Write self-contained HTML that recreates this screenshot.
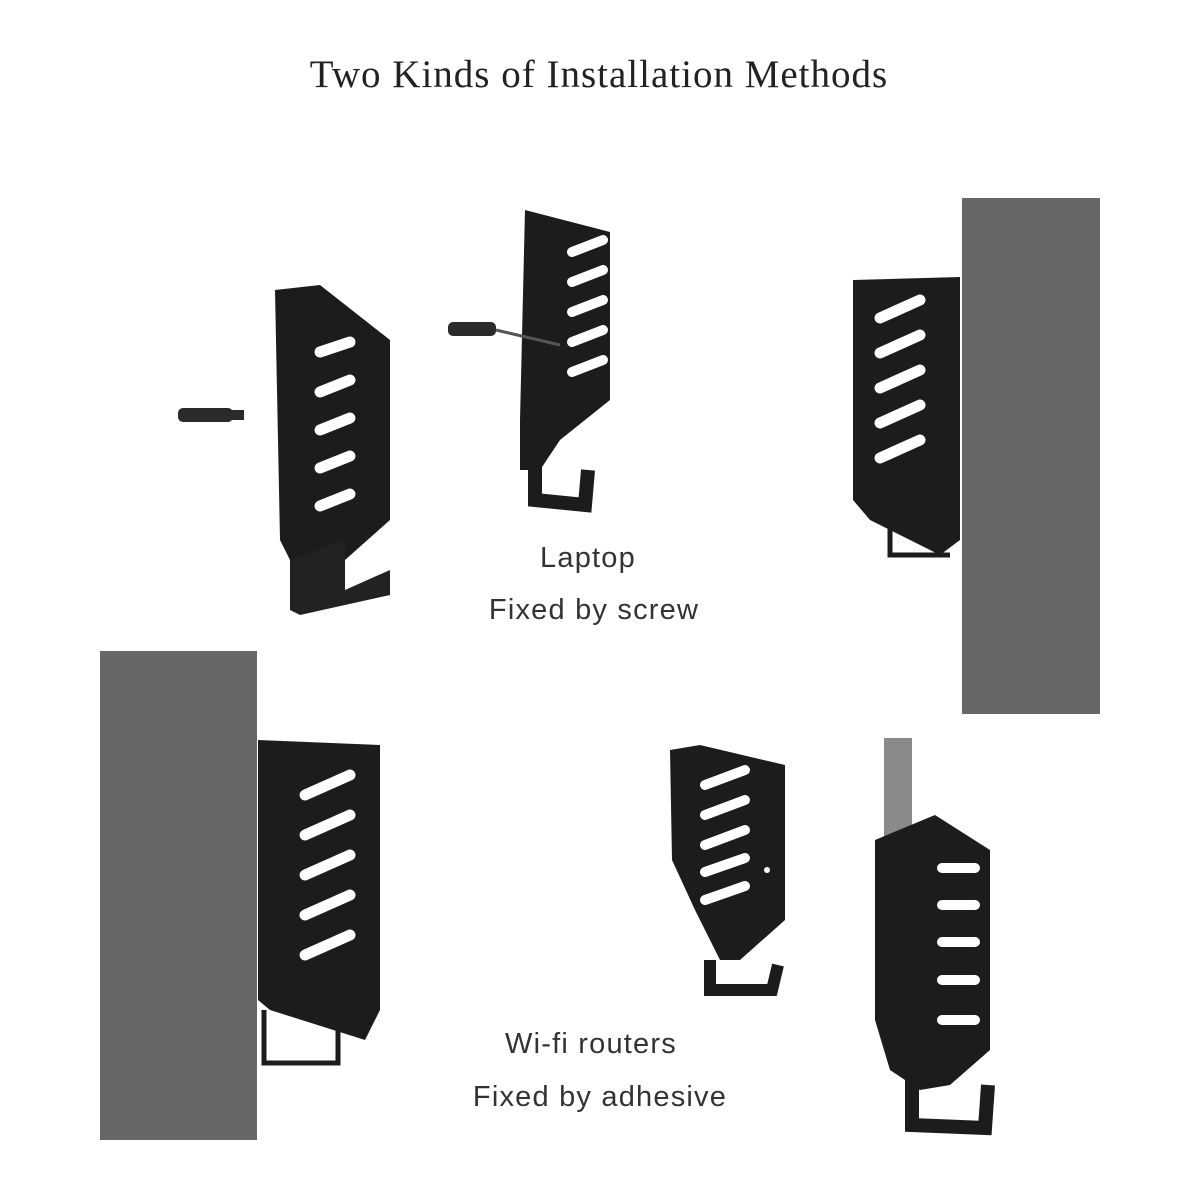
<!DOCTYPE html>
<html><head><meta charset="utf-8"><style>
html,body{margin:0;padding:0;background:#fff;}
svg{display:block}
.t{font-family:"Liberation Serif",serif;font-size:39px;fill:#222;letter-spacing:1px}
.s{font-family:"Liberation Sans",sans-serif;font-size:29px;fill:#333;letter-spacing:1.2px}
</style></head><body>
<svg width="1200" height="1200" viewBox="0 0 1200 1200" xmlns="http://www.w3.org/2000/svg">
<text x="599" y="87" text-anchor="middle" class="t">Two Kinds of Installation Methods</text>

<rect x="962" y="198" width="138" height="516" fill="#676767"/>
<rect x="100" y="651" width="157" height="489" fill="#676767"/>
<rect x="884" y="738" width="28" height="125" fill="#8a8a8a"/>

<polygon points="853,280 960,277 960,540 940,555 870,520 853,500" fill="#1c1c1c"/>
<g stroke="#fff" stroke-width="11" stroke-linecap="round">
<line x1="880" y1="318" x2="920" y2="300"/>
<line x1="880" y1="353" x2="920" y2="335"/>
<line x1="880" y1="388" x2="920" y2="370"/>
<line x1="880" y1="423" x2="920" y2="405"/>
<line x1="880" y1="458" x2="920" y2="440"/>
</g>
<path d="M890,520 L890,555 L950,555" fill="none" stroke="#1c1c1c" stroke-width="5"/>

<polygon points="258,740 380,745 380,1010 365,1040 270,1010 258,1000" fill="#1c1c1c"/>
<g stroke="#fff" stroke-width="11" stroke-linecap="round">
<line x1="305" y1="795" x2="350" y2="775"/>
<line x1="305" y1="835" x2="350" y2="815"/>
<line x1="305" y1="875" x2="350" y2="855"/>
<line x1="305" y1="915" x2="350" y2="895"/>
<line x1="305" y1="955" x2="350" y2="935"/>
</g>
<path d="M264,1010 L264,1063 L338,1063 L338,1030" fill="none" stroke="#1c1c1c" stroke-width="5"/>

<polygon points="275,290 320,285 390,340 390,520 345,560 345,590 290,610 290,560 280,540" fill="#1c1c1c"/>
<polygon points="290,560 345,540 345,590 390,570 390,595 300,615 290,610" fill="#222"/>
<g stroke="#fff" stroke-width="11" stroke-linecap="round">
<line x1="320" y1="352" x2="350" y2="342"/>
<line x1="320" y1="392" x2="350" y2="380"/>
<line x1="320" y1="430" x2="350" y2="418"/>
<line x1="320" y1="468" x2="350" y2="456"/>
<line x1="320" y1="506" x2="350" y2="494"/>
</g>
<g fill="#2a2a2a"><rect x="178" y="408" width="55" height="14" rx="5"/><rect x="232" y="410" width="12" height="10"/></g>

<polygon points="525,210 610,232 610,400 560,440 540,470 520,470 520,420" fill="#1c1c1c"/>
<path d="M535,440 L535,500 L585,505 L588,470" fill="none" stroke="#1c1c1c" stroke-width="14"/>
<g stroke="#fff" stroke-width="10" stroke-linecap="round">
<line x1="572" y1="252" x2="603" y2="240"/>
<line x1="572" y1="282" x2="603" y2="270"/>
<line x1="572" y1="312" x2="603" y2="300"/>
<line x1="572" y1="342" x2="603" y2="330"/>
<line x1="572" y1="372" x2="603" y2="360"/>
</g>
<g fill="#2a2a2a"><rect x="448" y="322" width="48" height="14" rx="5"/><line x1="496" y1="330" x2="560" y2="345" stroke="#555" stroke-width="3"/></g>

<polygon points="670,750 700,745 785,765 785,920 740,960 720,960 695,910 672,860" fill="#1c1c1c"/>
<path d="M710,960 L710,990 L772,990 L778,965" fill="none" stroke="#1c1c1c" stroke-width="12"/>
<g stroke="#fff" stroke-width="10" stroke-linecap="round">
<line x1="705" y1="785" x2="745" y2="770"/>
<line x1="705" y1="815" x2="745" y2="800"/>
<line x1="705" y1="845" x2="745" y2="830"/>
<line x1="705" y1="872" x2="745" y2="858"/>
<line x1="705" y1="900" x2="745" y2="886"/>
</g>
<circle cx="767" cy="870" r="3" fill="#fff"/>

<polygon points="875,840 935,815 990,850 990,1050 950,1085 920,1090 890,1070 875,1020" fill="#1c1c1c"/>
<path d="M912,1060 L912,1125 L985,1128 L988,1085" fill="none" stroke="#1c1c1c" stroke-width="14"/>
<g stroke="#fff" stroke-width="10" stroke-linecap="round">
<line x1="942" y1="868" x2="975" y2="868"/>
<line x1="942" y1="905" x2="975" y2="905"/>
<line x1="942" y1="942" x2="975" y2="942"/>
<line x1="942" y1="980" x2="975" y2="980"/>
<line x1="942" y1="1020" x2="975" y2="1020"/>
</g>

<text x="588" y="567" text-anchor="middle" class="s">Laptop</text>
<text x="594" y="619" text-anchor="middle" class="s">Fixed by screw</text>
<text x="591" y="1053" text-anchor="middle" class="s">Wi-fi routers</text>
<text x="600" y="1106" text-anchor="middle" class="s">Fixed by adhesive</text>
</svg>
</body></html>
